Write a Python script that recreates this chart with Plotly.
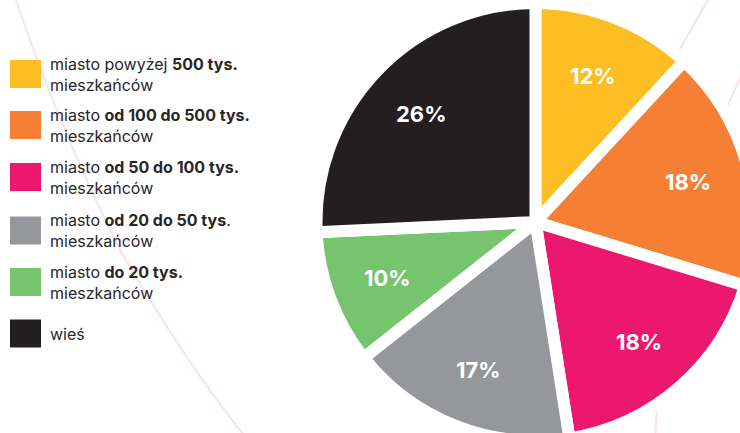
import math
import plotly.graph_objects as go

categories = [
    "miasto powyżej <b>500 tys.</b><br>mieszkańców",
    "miasto <b>od 100 do 500 tys.</b><br>mieszkańców",
    "miasto <b>od 50 do 100 tys.</b><br>mieszkańców",
    "miasto <b>od 20 do 50 tys</b>.<br>mieszkańców",
    "miasto <b>do 20 tys.</b><br>mieszkańców",
    "wieś",
]
values = [12, 18, 18, 17, 10, 26]
colors = ["#FDBE24", "#F47F35", "#EC1870", "#96979A", "#76C46E", "#231F20"]

W, H = 760, 445
cx, cy, r = 535.5, 222, 219

fig = go.Figure()
fig.add_trace(go.Pie(
    labels=categories,
    values=values,
    sort=False,
    direction="clockwise",
    rotation=0,
    marker=dict(colors=colors, line=dict(color="white", width=12)),
    textinfo="none",
    showlegend=False,
    hoverinfo="skip",
    domain=dict(x=[(cx - r) / W, (cx + r) / W], y=[1 - (cy + r) / H, 1 - (cy - r) / H]),
))

# decorative background arcs
bg = "#FBE1E6"
shapes = [
    dict(type="path", path="M 16,0 Q 60,130 120,250 Q 190,370 252,445", xref="x", yref="y",
         line=dict(color=bg, width=2), layer="below"),
    dict(type="path", path="M 678,52 L 708,0", xref="x", yref="y", line=dict(color=bg, width=2), layer="below"),
    dict(type="path", path="M 727,107 L 745,68", xref="x", yref="y", line=dict(color=bg, width=2), layer="below"),
    dict(type="path", path="M 657,405 L 655,445", xref="x", yref="y", line=dict(color=bg, width=2), layer="below"),
]

annotations = []
# percentage labels placed along each slice bisector
total = sum(values)
cum = 0
for v in values:
    mid = (cum + v / 2) / total * 2 * math.pi
    cum += v
    rr = 0.72 * r
    annotations.append(dict(x=cx + rr * math.sin(mid), y=cy - rr * math.cos(mid) + 1, xref="x", yref="y",
                            text=f"<b>{v}%</b>", showarrow=False, xanchor="center", yanchor="middle",
                            font=dict(family="Inter", size=22, color="white")))

# legend (custom squares + rich text)
leg_y = [74, 125, 177, 230.5, 282, 333.5]
for lab, col, y in zip(categories, colors, leg_y):
    shapes.append(dict(type="rect", xref="x", yref="y", x0=10, x1=41, y0=y - 14, y1=y + 14,
                       fillcolor=col, line=dict(width=0)))
    annotations.append(dict(x=48, y=y, xref="x", yref="y", text=lab, showarrow=False,
                            xanchor="left", yanchor="middle", align="left",
                            font=dict(family="Inter", size=16, color="#2A2627")))

fig.update_layout(
    width=W, height=H,
    margin=dict(l=0, r=0, t=0, b=0),
    paper_bgcolor="white", plot_bgcolor="rgba(0,0,0,0)",
    xaxis=dict(range=[0, W], visible=False, fixedrange=True, domain=[0, 1]),
    yaxis=dict(range=[H, 0], visible=False, fixedrange=True, domain=[0, 1]),
    shapes=shapes,
    annotations=annotations,
)

fig.write_html("out.html", config={"displayModeBar": False},
               post_script="document.body.style.margin='0';document.body.style.overflow='hidden';document.documentElement.style.overflow='hidden';")
